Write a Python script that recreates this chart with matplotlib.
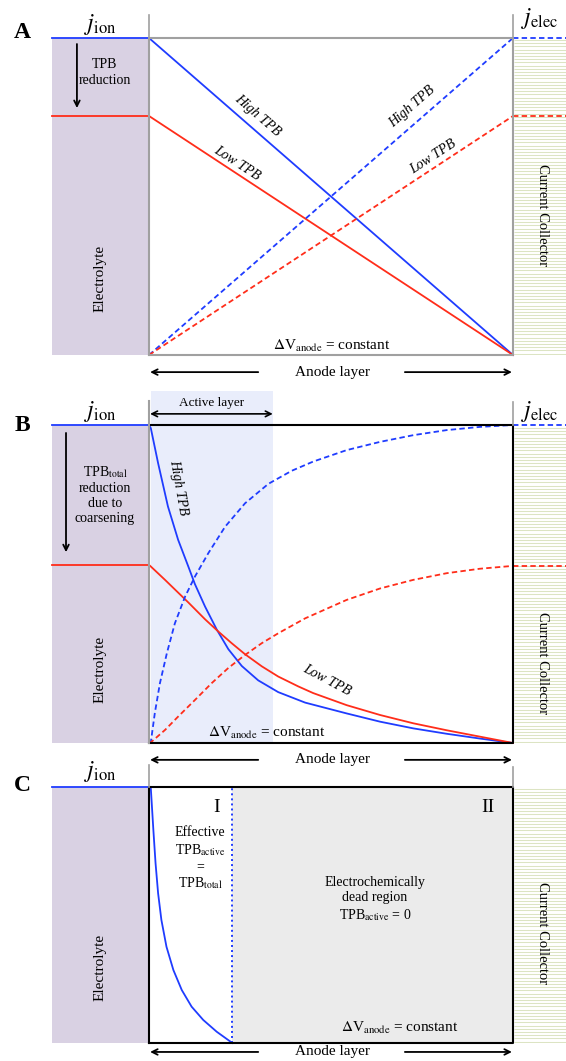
import numpy as np
import matplotlib.pyplot as plt
from matplotlib.patches import Rectangle

plt.rcParams['font.family'] = ['Liberation Serif', 'DejaVu Serif']
plt.rcParams['mathtext.fontset'] = 'stix'

BLUE = '#1f3cff'
RED = '#ff2d1a'
ELEC = '#d9d1e3'
CC = '#dce4c3'
SHADE = '#e9edfb'
DEAD = '#ebebeb'
GRAY = '#a0a0a0'

# --- data (x = normalised depth into anode layer, y = normalised current) ---
# panel A: linear profiles
a_x = [0, 1]
a_ion_high = [1, 0]
a_ion_low = [0.754, 0]
a_elec_high = [0, 1]
a_elec_low = [0, 0.754]

# panel B: decaying ionic / rising electronic current
b_ion_high_x = [0, 0.005, 0.025, 0.052, 0.080, 0.108, 0.126, 0.154, 0.186, 0.218,
                0.255, 0.300, 0.355, 0.429, 0.543, 0.635, 0.726, 0.818, 0.909, 1]
b_ion_high = [1, 0.990, 0.880, 0.744, 0.639, 0.555, 0.500, 0.429, 0.357, 0.295,
              0.242, 0.197, 0.160, 0.127, 0.093, 0.067, 0.046, 0.029, 0.014, 0]
b_ion_low_x = [0, 0.005, 0.044, 0.080, 0.108, 0.154, 0.190, 0.227, 0.264, 0.310,
               0.355, 0.410, 0.451, 0.543, 0.635, 0.726, 0.818, 0.909, 1]
b_ion_low = [0.56, 0.555, 0.513, 0.473, 0.442, 0.389, 0.351, 0.314, 0.279, 0.241,
             0.209, 0.178, 0.157, 0.119, 0.088, 0.062, 0.040, 0.020, 0]
b_elec_high_x = [0, 0.005, 0.016, 0.030, 0.049, 0.071, 0.099, 0.126, 0.163, 0.209,
                 0.264, 0.328, 0.392, 0.451, 0.543, 0.635, 0.726, 0.818, 0.909, 1]
b_elec_high = [0, 0.003, 0.094, 0.188, 0.282, 0.376, 0.460, 0.523, 0.597, 0.680,
               0.754, 0.815, 0.856, 0.885, 0.921, 0.947, 0.968, 0.984, 0.994, 1]
b_elec_low_x = [0, 0.005, 0.044, 0.080, 0.126, 0.172, 0.218, 0.264, 0.310, 0.355,
                0.429, 0.543, 0.635, 0.726, 0.818, 0.909, 1]
b_elec_low = [0, 0.002, 0.041, 0.083, 0.135, 0.188, 0.236, 0.277, 0.314, 0.345,
              0.392, 0.450, 0.486, 0.513, 0.534, 0.548, 0.557]

# panel C: ionic current confined to the active layer
c_ion_x = [0, 0.005, 0.012, 0.018, 0.025, 0.034, 0.048, 0.067, 0.090, 0.117,
           0.149, 0.186, 0.229]
c_ion = [1, 0.995, 0.832, 0.702, 0.585, 0.481, 0.376, 0.285, 0.207, 0.142,
         0.090, 0.044, 0]
c_active = 0.229
b_active = 0.34

W, H = 566, 1061
XL, XR = -97 / 364, 1 + 53 / 364

fig = plt.figure(figsize=(W / 100, H / 100), dpi=100)
LW = 1.3


def panel(top, bot, y_el, y_cc):
    ax = fig.add_axes([52 / W, 1 - bot / H, (W - 52) / W, (bot - top) / H])
    ax.set_xlim(XL, XR)
    ax.set_ylim(0, 1)
    ax.axis('off')
    hpx = bot - top
    ax.add_patch(Rectangle((XL, 0), -XL, 1, color=ELEC, lw=0, zorder=0))
    ax.hlines(np.arange(1.5 / hpx, 1, 3.2 / hpx), 1.003, XR, color=CC, lw=0.75, zorder=0)
    ax.text(-0.135, y_el, 'Electrolyte', rotation=90, ha='center', va='center', fontsize=11)
    ax.text(1.08, y_cc, 'Current Collector', rotation=-90, ha='center', va='center',
            fontsize=10.5)
    return ax


def anode_arrows(ax, y, xt=0.503):
    kw = dict(arrowstyle='->', lw=1.3, color='black', shrinkA=0, shrinkB=0)
    ax.annotate('', xy=(0.003, y), xytext=(0.30, y), arrowprops=kw, annotation_clip=False)
    ax.annotate('', xy=(0.997, y), xytext=(0.703, y), arrowprops=kw, annotation_clip=False)
    ax.text(xt, y, 'Anode layer', ha='center', va='center', fontsize=11)


def italic(ax, x, y, s, rot):
    ax.text(x, y, s, rotation=rot, style='italic', ha='center', va='center', fontsize=10)


dash = (0, (3, 1.8))

# ---------------- A ----------------
ax = panel(38, 355, 0.24, 0.44)
ax.text(-0.349, 1.016, 'A', fontsize=17, fontweight='bold', ha='center', va='center')
ax.text(-0.135, 1.044, r'$j_{\rm ion}$', fontsize=17, ha='center', va='center')
ax.text(1.074, 1.06, r'$j_{\rm elec}$', fontsize=17, ha='center', va='center')
ax.plot([XL, 0], [a_ion_high[0]] * 2, color=BLUE, lw=LW, clip_on=False)
ax.plot([XL, 0], [a_ion_low[0]] * 2, color=RED, lw=LW, clip_on=False)
ax.plot([1, XR], [a_elec_high[-1]] * 2, color=BLUE, lw=LW, ls=dash, clip_on=False)
ax.plot([1, XR], [a_elec_low[-1]] * 2, color=RED, lw=LW, ls=dash, clip_on=False)
ax.plot(a_x, a_ion_high, color=BLUE, lw=LW, clip_on=False)
ax.plot(a_x, a_ion_low, color=RED, lw=LW, clip_on=False)
ax.plot(a_x, a_elec_high, color=BLUE, lw=LW, ls=dash, clip_on=False)
ax.plot(a_x, a_elec_low, color=RED, lw=LW, ls=dash, clip_on=False)
ax.plot([0, 1, 1, 0, 0], [0, 0, 1, 1, 0], color=GRAY, lw=1.5, clip_on=False)
ax.plot([0, 0], [1, 1.072], color=GRAY, lw=1.2, clip_on=False)
ax.plot([1, 1], [1, 1.072], color=GRAY, lw=1.2, clip_on=False)
ax.annotate('', xy=(-0.198, 0.779), xytext=(-0.198, 0.981),
            arrowprops=dict(arrowstyle='->', lw=1.3, color='black', shrinkA=0, shrinkB=0))
ax.text(-0.121, 0.89, 'TPB\nreduction', ha='center', va='center', fontsize=10,
        linespacing=1.3)
italic(ax, 0.299, 0.757, 'High TPB', -41)
italic(ax, 0.242, 0.606, 'Low TPB', -33)
italic(ax, 0.723, 0.782, 'High TPB', 41)
italic(ax, 0.780, 0.625, 'Low TPB', 33)
ax.text(0.503, 0.03, r'$\Delta$V$_{\rm anode}$ = constant', ha='center', va='center',
        fontsize=11)
anode_arrows(ax, -0.054)

# ---------------- B ----------------
ax = panel(425, 743, 0.23, 0.252)
ax.add_patch(Rectangle((0.005, 0), b_active - 0.005, 1.107, color=SHADE, lw=0,
                       zorder=0, clip_on=False))
ax.text(-0.349, 0.997, 'B', fontsize=17, fontweight='bold', ha='center', va='center')
ax.text(-0.135, 1.041, r'$j_{\rm ion}$', fontsize=17, ha='center', va='center')
ax.text(1.074, 1.041, r'$j_{\rm elec}$', fontsize=17, ha='center', va='center')
ax.plot([XL, 0], [b_ion_high[0]] * 2, color=BLUE, lw=LW, clip_on=False)
ax.plot([XL, 0], [b_ion_low[0]] * 2, color=RED, lw=LW, clip_on=False)
ax.plot([1, XR], [b_elec_high[-1]] * 2, color=BLUE, lw=LW, ls=dash, clip_on=False)
ax.plot([1, XR], [b_elec_low[-1]] * 2, color=RED, lw=LW, ls=dash, clip_on=False)
ax.plot(b_ion_high_x, b_ion_high, color=BLUE, lw=LW, clip_on=False)
ax.plot(b_ion_low_x, b_ion_low, color=RED, lw=LW, clip_on=False)
ax.plot(b_elec_high_x, b_elec_high, color=BLUE, lw=LW, ls=dash, clip_on=False)
ax.plot(b_elec_low_x, b_elec_low, color=RED, lw=LW, ls=dash, clip_on=False)
ax.plot([0, 1, 1, 0], [1, 1, 0, 0], color='black', lw=1.5, clip_on=False)
ax.plot([0, 0], [0, 1.075], color=GRAY, lw=1.5, clip_on=False)
ax.plot([1, 1], [1, 1.072], color=GRAY, lw=1.2, clip_on=False)
ax.annotate('', xy=(0.003, 1.035), xytext=(b_active, 1.035), annotation_clip=False,
            arrowprops=dict(arrowstyle='<->', lw=1.2, color='black', shrinkA=0, shrinkB=0))
ax.text(0.173, 1.068, 'Active layer', ha='center', va='center', fontsize=9.5)
ax.annotate('', xy=(-0.228, 0.60), xytext=(-0.228, 0.975),
            arrowprops=dict(arrowstyle='->', lw=1.3, color='black', shrinkA=0, shrinkB=0))
ax.text(-0.121, 0.78, 'TPB$_{\\rm total}$\nreduction\ndue to\ncoarsening', ha='center',
        va='center', fontsize=10, linespacing=1.2)
italic(ax, 0.08, 0.805, 'High TPB', -80)
italic(ax, 0.489, 0.198, 'Low TPB', -28)
ax.text(0.324, 0.031, r'$\Delta$V$_{\rm anode}$ = constant', ha='center', va='center',
        fontsize=11)
anode_arrows(ax, -0.053)

# ---------------- C ----------------
ax = panel(787, 1043, 0.297, 0.43)
ax.add_patch(Rectangle((c_active, 0), 1 - c_active, 1, color=DEAD, lw=0, zorder=0))
ax.text(-0.349, 1.004, 'C', fontsize=17, fontweight='bold', ha='center', va='center')
ax.text(-0.135, 1.059, r'$j_{\rm ion}$', fontsize=17, ha='center', va='center')
ax.plot([XL, 0], [c_ion[0]] * 2, color=BLUE, lw=LW, clip_on=False)
ax.plot(c_ion_x, c_ion, color=BLUE, lw=LW, clip_on=False)
ax.plot([c_active, c_active], [0, 1], color=BLUE, lw=1.4, ls=(0, (1, 1.6)))
ax.plot([0, 1, 1, 0, 0], [0, 0, 1, 1, 0], color='black', lw=1.5, clip_on=False)
ax.plot([0, 0], [1, 1.086], color=GRAY, lw=1.2, clip_on=False)
ax.plot([1, 1], [1, 1.078], color=GRAY, lw=1.2, clip_on=False)
ax.text(0.187, 0.918, 'I', ha='center', va='center', fontsize=14)
ax.text(0.931, 0.918, 'II', ha='center', va='center', fontsize=14)
ax.text(0.14, 0.72, 'Effective\nTPB$_{\\rm active}$\n=\nTPB$_{\\rm total}$', ha='center',
        va='center', fontsize=10, linespacing=1.2)
ax.text(0.621, 0.56, 'Electrochemically\ndead region\nTPB$_{\\rm active}$ = 0',
        ha='center', va='center', fontsize=10, linespacing=1.25)
ax.text(0.69, 0.059, r'$\Delta$V$_{\rm anode}$ = constant', ha='center', va='center',
        fontsize=11)
anode_arrows(ax, -0.035)

fig.savefig('out.png', dpi=100, facecolor='white')
